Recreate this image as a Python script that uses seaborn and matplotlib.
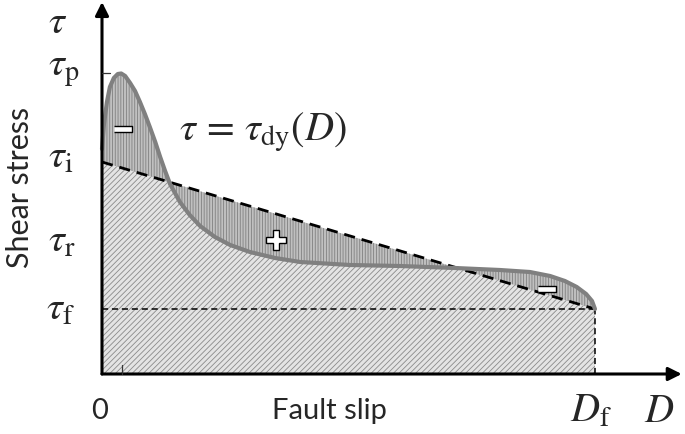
import numpy as np
import matplotlib
matplotlib.use("Agg")
import matplotlib.pyplot as plt
import seaborn as sns

# dynamic weakening curve, slip normalised by D_f
slip = [0.000, 0.004, 0.010, 0.016, 0.024, 0.032, 0.039, 0.047, 0.057, 0.067,
        0.077, 0.087, 0.097, 0.108, 0.118, 0.128, 0.138, 0.158, 0.178, 0.199,
        0.229, 0.260, 0.300, 0.351, 0.402, 0.503, 0.604, 0.716, 0.807, 0.868,
        0.909, 0.939, 0.963, 0.982, 0.994, 1.000]
stress = [2.25, 2.50, 2.72, 2.87, 2.96, 3.00, 3.005, 2.98, 2.91, 2.83,
          2.72, 2.60, 2.47, 2.32, 2.17, 2.03, 1.90, 1.72, 1.59, 1.48,
          1.37, 1.29, 1.22, 1.16, 1.12, 1.09, 1.08, 1.06, 1.04, 1.02,
          0.98, 0.93, 0.87, 0.80, 0.73, 0.65]

tau_p = 3.01
tau_i = 2.12
tau_f = 0.65
D_f = 1.0

sns.set_style("white")
plt.rcParams["mathtext.fontset"] = "stix"
plt.rcParams["hatch.linewidth"] = 0.6

fig = plt.figure(figsize=(6.85, 4.35), dpi=100)
ax = fig.add_axes([0, 0, 1, 1])
ax.set_xlim(-0.2069, 1.1826)
ax.set_ylim(-0.60, 3.75)

df = {"slip": np.array(slip), "stress": np.array(stress)}
line = tau_i + (tau_f - tau_i) * df["slip"] / D_f

# shaded areas
ax.fill_between(df["slip"], 0, np.maximum(df["stress"], line), facecolor="#c0c0c0",
                edgecolor="#808080", hatch="||||||", linewidth=0, zorder=1)
ax.fill_between(df["slip"], 0, np.minimum(df["stress"], line), facecolor="#e4e4e4",
                edgecolor="#8a8a8a", hatch="//////", linewidth=0, zorder=2)

# linear weakening and residual level
ax.plot([0, D_f], [tau_i, tau_f], color="black", lw=2.0, ls=(0, (4, 2.5)), zorder=3)
ax.plot([0, D_f], [tau_f, tau_f], color="black", lw=1.1, ls=(0, (4, 2.5)), zorder=3)
ax.plot([D_f, D_f], [0, tau_f], color="black", lw=1.1, ls=(0, (4, 2.5)), zorder=3)

sns.lineplot(data=df, x="slip", y="stress", sort=False, color="#808080", lw=3.0,
             ax=ax, zorder=4)
ax.axis("off")

# axes with arrows
ax.annotate("", xy=(1.176, 0), xytext=(0, 0),
            arrowprops=dict(arrowstyle="-|>", lw=2.2, color="black", mutation_scale=20,
                            shrinkA=0, shrinkB=0), zorder=6)
ax.annotate("", xy=(0, 3.72), xytext=(0, 0),
            arrowprops=dict(arrowstyle="-|>", lw=2.2, color="black", mutation_scale=20,
                            shrinkA=0, shrinkB=0), zorder=6)
ax.plot([0, 0.016], [tau_p, tau_p], color="#333333", lw=0.9, zorder=6)
ax.plot([0.04, 0.04], [0, 0.09], color="#333333", lw=0.9, zorder=6)

# sign markers
minus = [(-1, -0.4), (1, -0.4), (1, 0.4), (-1, 0.4)]
ax.plot([0.043, 0.903], [2.455, 0.85], ls="none", marker=minus, markersize=12.5,
        markerfacecolor="white", markeredgecolor="black", markeredgewidth=1.0, zorder=7)
ax.plot([0.353], [1.34], ls="none", marker="P", markersize=14,
        markerfacecolor="white", markeredgecolor="black", markeredgewidth=1.0, zorder=7)

# labels
serif = 29
ax.text(-0.11, 3.53, r"$\tau$", fontsize=serif, va="center", ha="left")
ax.text(-0.11, 3.06, r"$\tau_\mathrm{p}$", fontsize=serif, va="center", ha="left")
ax.text(-0.11, 2.18, r"$\tau_\mathrm{i}$", fontsize=serif, va="center", ha="left")
ax.text(-0.11, 1.34, r"$\tau_\mathrm{r}$", fontsize=serif, va="center", ha="left")
ax.text(-0.114, 0.66, r"$\tau_\mathrm{f}$", fontsize=serif, va="center", ha="left")
ax.text(0.156, 2.43, r"$\tau\,=\,\tau_\mathrm{dy}(D)$", fontsize=serif, va="center", ha="left")
ax.text(0.95, -0.36, r"$D_\mathrm{f}$", fontsize=serif, va="center", ha="left")
ax.text(1.10, -0.36, r"$D$", fontsize=serif, va="center", ha="left")

ax.text(-0.004, -0.36, "0", fontsize=21, family="Lato", va="center", ha="center")
ax.text(0.462, -0.36, "Fault slip", fontsize=21, family="Lato", va="center", ha="center")
ax.text(-0.166, 1.88, "Shear stress", fontsize=22, family="Lato", va="center",
        ha="center", rotation=90)

fig.savefig("out.png", dpi=100)
